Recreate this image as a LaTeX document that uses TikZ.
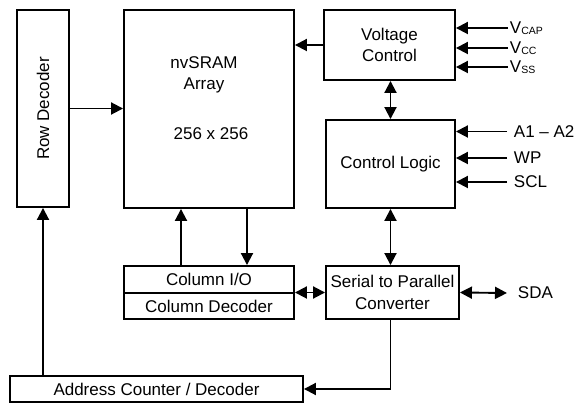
\documentclass[tikz,border=0pt]{standalone}
\usepackage{fontspec}
\setmainfont{Liberation Sans}
\usepackage{tikz}
\usetikzlibrary{arrows.meta}
\tikzset{
	block/.style={
			draw, inner sep=0pt, align=center
		},
	siglabel/.style={
			anchor=west, inner ysep=0pt, inner xsep=#1,
			text height=12pt, text depth=0pt
		},
	siglabel/.default=6pt
}
\tikzset{>={Triangle[length=12pt,width=12pt]}}
\newcommand{\vsub}[1]{\raisebox{-0.5pt}{\fontsize{10.5}{12}\selectfont #1}}

\begin{document}
\begin{tikzpicture}[x=1pt, y=-1pt, line width=1.9pt, font=\fontsize{17}{21.5}\selectfont]
	\useasboundingbox (0,0) rectangle (582,403);

	\node[block, minimum width=52pt, minimum height=197pt] (rowdec) at (43,108.5) {\rotatebox{90}{Row Decoder}};
	\node[block, minimum width=170pt, minimum height=198pt] (array) at (209,109) {};
	\node[align=center] (arraytxt) at (204,75) {nvSRAM\\Array};
	\node (arraysize) at (211,133.5) {256 x 256};
	\node[block, minimum width=131pt, minimum height=70pt] (volt) at (389.5,45) {Voltage\\Control};
	\node[block, minimum width=129pt, minimum height=88pt] (ctrl) at (390.5,164) {Control Logic};
	\node[block, minimum width=170pt, minimum height=27pt] (colio) at (209,279.5) {Column I/O};
	\node[block, minimum width=170pt, minimum height=26pt] (coldec) at (209,306) {Column Decoder};
	\node[block, minimum width=133pt, minimum height=53pt] (serial) at (392.5,292.5) {Serial to Parallel\\Converter};
	\node[block, minimum width=293pt, minimum height=26pt] (addr) at (156.5,389) {Address Counter / Decoder};

	\node[siglabel=1pt] (vcap) at (508,28) {V\vsub{CAP}};
	\node[siglabel=1pt] (vcc) at (508,48) {V\vsub{CC}};
	\node[siglabel=1pt] (vss) at (508,67) {V\vsub{SS}};
	\node[siglabel] (apins) at (507,131.5) {A1 \textendash{} A2};
	\node[siglabel] (wp) at (507,158) {WP};
	\node[siglabel] (scl) at (507,182) {SCL};
	\node[siglabel=10pt] (sda) at (507,293) {SDA};

	\draw[->] (rowdec.east) -- (rowdec.east -| array.west);
	\draw[->] (volt.west) -- (volt.west -| array.east);
	\draw[->] (vcap.west) -- (vcap.west -| volt.east);
	\draw[->] (vcc.west) -- (vcc.west -| volt.east);
	\draw[->] (vss.west) -- (vss.west -| volt.east);
	\draw[->] (apins.west) -- (apins.west -| ctrl.east);
	\draw[->] (wp.west) -- (wp.west -| ctrl.east);
	\draw[->] (scl.west) -- (scl.west -| ctrl.east);
	\draw[<->] (ctrl.north) -- (ctrl.north |- volt.south);
	\draw[<->] (ctrl.south) -- (ctrl.south |- serial.north);
	\draw[->] ([xshift=-28pt]colio.north) -- ([xshift=-28pt]array.south);
	\draw[->] ([xshift=38pt]array.south) -- ([xshift=38pt]colio.north);
	\draw[<->] (serial.west) -- (serial.west -| coldec.east);
	\draw[<->] (serial.east) -- (sda.west);
	\draw[->] (serial.south -| ctrl) |- (addr.east);
	\draw[->] (addr.north -| rowdec) -- (rowdec.south);
\end{tikzpicture}
\end{document}
